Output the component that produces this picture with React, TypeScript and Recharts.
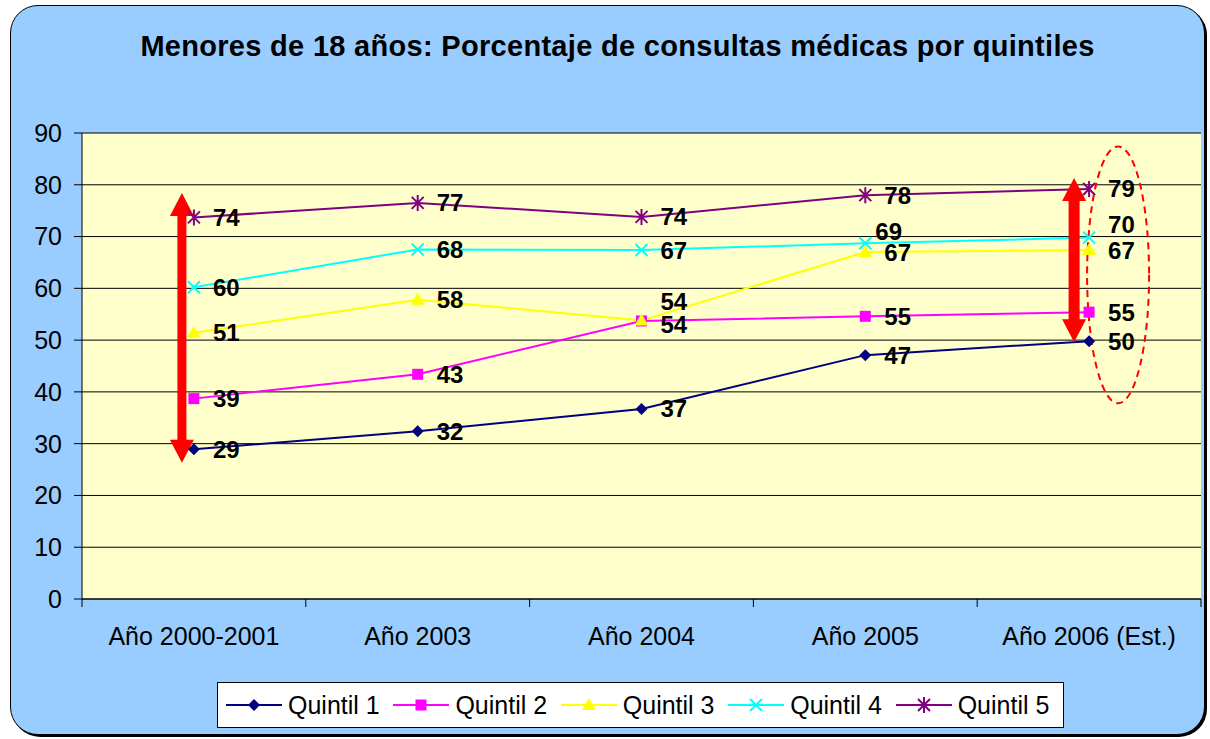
import React from "react";
import { CartesianGrid, LabelList, Legend, Line, LineChart, ReferenceLine, XAxis, YAxis } from "recharts";

const categories = ["Año 2000-2001", "Año 2003", "Año 2004", "Año 2005", "Año 2006 (Est.)"];
const quintil1 = [28.9, 32.4, 36.7, 47.1, 49.8];
const quintil2 = [38.7, 43.4, 53.7, 54.6, 55.4];
const quintil3 = [51.4, 57.8, 53.8, 67.0, 67.4];
const quintil4 = [60.2, 67.5, 67.4, 68.7, 69.8];
const quintil5 = [73.7, 76.5, 73.8, 78.0, 79.2];
const yTicks = [0, 10, 20, 30, 40, 50, 60, 70, 80, 90];

// red annotations (value ranges on the y axis)
const arrowSpans = [
  [26.3, 78.4],
  [49.6, 81.3],
];
const ringSpan = [37.8, 87.4];

const FONT = "'Liberation Sans', Arial, sans-serif";

type MarkerKind = "diamond" | "square" | "triangle" | "x" | "star";

const series: { key: string; name: string; color: string; marker: MarkerKind; values: number[] }[] = [
  { key: "q1", name: "Quintil 1", color: "#000080", marker: "diamond", values: quintil1 },
  { key: "q2", name: "Quintil 2", color: "#FF00FF", marker: "square", values: quintil2 },
  { key: "q3", name: "Quintil 3", color: "#FFFF00", marker: "triangle", values: quintil3 },
  { key: "q4", name: "Quintil 4", color: "#00FFFF", marker: "x", values: quintil4 },
  { key: "q5", name: "Quintil 5", color: "#800080", marker: "star", values: quintil5 },
];

const data = categories.map((cat, i) => {
  const row: Record<string, string | number> = { cat };
  series.forEach((s) => (row[s.key] = s.values[i]));
  return row;
});

// a few labels sit off their usual spot
const labelNudge: Record<string, [number, number]> = {
  "1-2": [0, 4],
  "2-2": [0, -19],
  "3-3": [-9, -12],
  "3-4": [0, -13],
};

function Marker({ kind, cx, cy, color }: { kind: MarkerKind; cx: number; cy: number; color: string }) {
  switch (kind) {
    case "diamond":
      return <polygon points={`${cx},${cy - 6} ${cx + 6},${cy} ${cx},${cy + 6} ${cx - 6},${cy}`} fill={color} />;
    case "square":
      return <rect x={cx - 5.5} y={cy - 5.5} width={11} height={11} fill={color} />;
    case "triangle":
      return <polygon points={`${cx},${cy - 7} ${cx + 7},${cy + 5} ${cx - 7},${cy + 5}`} fill={color} />;
    case "x":
      return (
        <path
          d={`M${cx - 6},${cy - 6}L${cx + 6},${cy + 6}M${cx - 6},${cy + 6}L${cx + 6},${cy - 6}`}
          stroke={color}
          strokeWidth={2}
          fill="none"
        />
      );
    default:
      return (
        <path
          d={`M${cx - 6},${cy - 6}L${cx + 6},${cy + 6}M${cx - 6},${cy + 6}L${cx + 6},${cy - 6}M${cx},${cy - 8}L${cx},${cy + 8}`}
          stroke={color}
          strokeWidth={2}
          fill="none"
        />
      );
  }
}

const makeDot = (kind: MarkerKind, color: string) => (props: any) => {
  const { cx, cy, index } = props;
  if (cx == null || cy == null) return <g key={`d-${index}`} />;
  return (
    <g key={`d-${kind}-${index}`}>
      <Marker kind={kind} cx={cx} cy={cy} color={color} />
    </g>
  );
};

const makeLabel = (si: number) => (props: any) => {
  const x = props.x ?? props.viewBox?.x;
  const y = props.y ?? props.viewBox?.y;
  const { value, index } = props;
  const [dx, dy] = labelNudge[`${si}-${index}`] ?? [0, 0];
  return (
    <text x={x + 19 + dx} y={y + 8.5 + dy} fontSize={24} fontWeight="bold" fill="#000" fontFamily={FONT}>
      {Math.round(Number(value))}
    </text>
  );
};

const CategoryTick = (props: any) => {
  const { x, y, payload, index, width, visibleTicksCount } = props;
  const half = width / visibleTicksCount / 2;
  return (
    <g>
      <line x1={x - half} x2={x - half} y1={y} y2={y + 8} stroke="#000" />
      {index === visibleTicksCount - 1 && <line x1={x + half} x2={x + half} y1={y} y2={y + 8} stroke="#000" />}
      <text x={x} y={y + 46} textAnchor="middle" fontSize={25} fill="#000" fontFamily={FONT}>
        {payload.value}
      </text>
    </g>
  );
};

const arrowShape = (dx: number, shaft: number) => (props: any) => {
  const { x1, y1, y2 } = props;
  const x = x1 + dx;
  const top = Math.min(y1, y2);
  const bot = Math.max(y1, y2);
  const hw = 12;
  const hl = 23;
  const sw = shaft / 2;
  const pts = [
    [x, top],
    [x + hw, top + hl],
    [x + sw, top + hl],
    [x + sw, bot - hl],
    [x + hw, bot - hl],
    [x, bot],
    [x - hw, bot - hl],
    [x - sw, bot - hl],
    [x - sw, top + hl],
    [x - hw, top + hl],
  ];
  return <polygon points={pts.map((p) => p.join(",")).join(" ")} fill="#FF0000" />;
};

const ringShape = (props: any) => {
  const { x1, y1, y2 } = props;
  const cy = (y1 + y2) / 2;
  return (
    <ellipse
      cx={x1 + 29}
      cy={cy}
      rx={31}
      ry={Math.abs(y2 - y1) / 2}
      fill="none"
      stroke="#FF0000"
      strokeWidth={2}
      strokeDasharray="7 5"
    />
  );
};

const renderLegend = () => (
  <div
    style={{
      marginLeft: 207,
      width: 847,
      height: 46,
      boxSizing: "border-box",
      border: "1.5px solid #000",
      background: "#fff",
      display: "flex",
      alignItems: "center",
      paddingLeft: 8,
      fontFamily: FONT,
    }}
  >
    {series.map((s) => (
      <div key={s.key} style={{ display: "flex", alignItems: "center", width: 167.5 }}>
        <svg width={56} height={20}>
          <line x1={0} x2={56} y1={10} y2={10} stroke={s.color} strokeWidth={2} />
          <Marker kind={s.marker} cx={28} cy={10} color={s.color} />
        </svg>
        <span style={{ fontSize: 25, marginLeft: 6, color: "#000", lineHeight: "26px" }}>{s.name}</span>
      </div>
    ))}
  </div>
);

export default function App() {
  return (
    <div style={{ position: "fixed", left: 0, top: 0, width: 1210, height: 739, background: "#fff" }}>
      <div
        style={{
          position: "absolute",
          left: 10,
          top: 5,
          width: 1195,
          height: 730,
          boxSizing: "border-box",
          border: "1.5px solid #000",
          borderRadius: 28,
          background: "#99CCFF",
          boxShadow: "2px 2px 0 #000",
        }}
      />
      <div
        style={{
          position: "absolute",
          left: 10,
          top: 32,
          width: 1215,
          textAlign: "center",
          fontFamily: FONT,
          fontWeight: "bold",
          fontSize: 29,
          letterSpacing: 0.3,
          lineHeight: "29px",
          color: "#000",
        }}
      >
        Menores de 18 años: Porcentaje de consultas médicas por quintiles
      </div>
      <div style={{ position: "absolute", left: 10, top: 5 }}>
        <LineChart width={1195} height={730} data={data} margin={{ top: 128, right: 4, left: 0, bottom: 7 }}>
          <CartesianGrid vertical={false} stroke="#000" fill="#FFFFCC" />
          <XAxis
            dataKey="cat"
            scale="band"
            height={83}
            tickSize={0}
            tickMargin={0}
            axisLine={{ stroke: "#000" }}
            tickLine={false}
            tick={<CategoryTick />}
            interval={0}
          />
          <YAxis
            domain={[0, 90]}
            ticks={yTicks}
            width={72}
            tickSize={8}
            tickMargin={12}
            axisLine={{ stroke: "#000" }}
            tickLine={{ stroke: "#000" }}
            tick={{ fontSize: 25, fill: "#000", fontFamily: FONT }}
          />
          <YAxis
            yAxisId="r"
            orientation="right"
            domain={[0, 90]}
            width={0}
            tick={false}
            tickLine={false}
            axisLine={{ stroke: "#808080" }}
          />
          {series.map((s, si) => (
            <Line
              key={s.key}
              dataKey={s.key}
              name={s.name}
              stroke={s.color}
              strokeWidth={2}
              dot={makeDot(s.marker, s.color)}
              activeDot={false}
              isAnimationActive={false}
            >
              <LabelList dataKey={s.key} content={makeLabel(si)} />
            </Line>
          ))}
          <ReferenceLine
            segment={[
              { x: categories[0], y: arrowSpans[0][0] },
              { x: categories[0], y: arrowSpans[0][1] },
            ]}
            ifOverflow="visible"
            shape={arrowShape(-12, 9)}
          />
          <ReferenceLine
            segment={[
              { x: categories[4], y: arrowSpans[1][0] },
              { x: categories[4], y: arrowSpans[1][1] },
            ]}
            ifOverflow="visible"
            shape={arrowShape(-15, 11)}
          />
          <ReferenceLine
            segment={[
              { x: categories[4], y: ringSpan[0] },
              { x: categories[4], y: ringSpan[1] },
            ]}
            ifOverflow="visible"
            shape={ringShape}
          />
          <Legend verticalAlign="bottom" content={renderLegend} />
        </LineChart>
      </div>
    </div>
  );
}
